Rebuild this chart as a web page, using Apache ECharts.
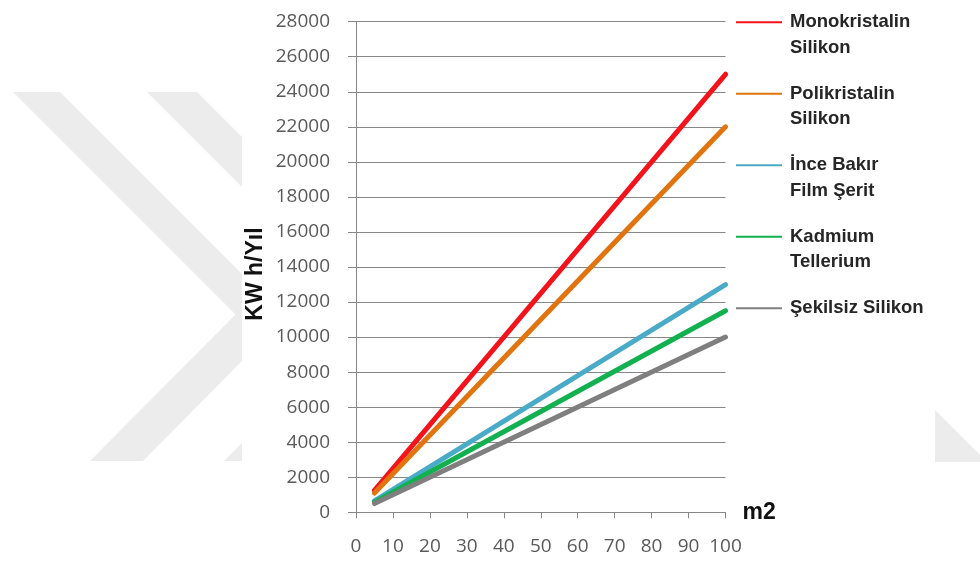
<!DOCTYPE html>
<html>
<head>
<meta charset="utf-8">
<script src="https://cdn.jsdelivr.net/npm/echarts@6/dist/echarts.min.js"></script>
<style>
  html, body { margin: 0; padding: 0; background: #ffffff; }
  #chart { width: 980px; height: 563px; }
</style>
</head>
<body>
<div id="chart"></div>
<script>
// Panel area (m2) where each measurement was taken
const areaValues = [5, 100];

// Yearly energy output (KWh/Yıl) per panel technology
const monoValues = [1250, 25000];
const poliValues = [1100, 22000];
const inceValues = [650, 13000];
const kadmiumValues = [575, 11500];
const sekilsizValues = [500, 10000];

const seriesNames = [
  'Monokristalin\nSilikon',
  'Polikristalin\nSilikon',
  'İnce Bakır\nFilm Şerit',
  'Kadmium\nTellerium',
  'Şekilsiz Silikon'
];
const seriesValues = [monoValues, poliValues, inceValues, kadmiumValues, sekilsizValues];
const seriesColors = ['#f5131b', '#e2740f', '#4aabc8', '#12b04e', '#7f7f7f'];

// Axis ranges and tick steps
const xMin = 0, xMax = 100, xStep = 10;
const yMin = 0, yMax = 28000, yStep = 2000;

const gridColor = '#878787';
const tickFont = { fontFamily: 'Open Sans', fontSize: 19, color: '#5a5a5a' };
const stripe = '#ececec';

const chart = echarts.init(document.getElementById('chart'), null, { renderer: 'canvas' });

chart.setOption({
  backgroundColor: '#ffffff',
  animation: false,
  // faint chevron stripes printed behind the figure
  graphic: [
    { type: 'polygon', silent: true, z: -1,
      shape: { points: [[13, 92], [60, 92], [242, 274], [242, 361], [143, 461], [90, 461], [235.5, 314.5]] },
      style: { fill: stripe } },
    { type: 'polygon', silent: true, z: -1,
      shape: { points: [[147, 92], [197, 92], [242, 137], [242, 187]] },
      style: { fill: stripe } },
    { type: 'polygon', silent: true, z: -1,
      shape: { points: [[224, 461], [242, 461], [242, 443]] },
      style: { fill: stripe } },
    { type: 'polygon', silent: true, z: -1,
      shape: { points: [[935, 410], [980, 455], [980, 462], [935, 462]] },
      style: { fill: stripe } }
  ],
  grid: { left: 356, right: 254.5, top: 21.7, bottom: 50.7, containLabel: false },
  legend: {
    orient: 'vertical',
    left: 736,
    top: -16,
    padding: 0,
    itemGap: -5,
    itemWidth: 46,
    itemHeight: 14,
    selectedMode: false,
    data: seriesNames.map((n, i) => ({
      name: n,
      icon: 'path://M0,6.5L46,6.5L46,8.5L0,8.5Z',
      itemStyle: { color: seriesColors[i] }
    })),
    // every entry is padded to three lines so the marker sits level with the first text line
    formatter: (name) => (name.indexOf('\n') >= 0 ? '\n' + name : '\n' + name + '\n'),
    textStyle: {
      fontFamily: 'Liberation Sans',
      fontWeight: 'bold',
      fontSize: 18.5,
      color: '#262626',
      lineHeight: 25.5,
      padding: [0, 0, 0, 3]
    }
  },
  xAxis: {
    type: 'value',
    min: xMin,
    max: xMax,
    interval: xStep,
    name: 'm2',
    nameLocation: 'end',
    nameGap: 17,
    nameTextStyle: { fontFamily: 'Liberation Sans', fontWeight: 'bold', fontSize: 23, color: '#111111', verticalAlign: 'middle', padding: [7, 0, 0, 0] },
    axisLine: { show: true, onZero: false, lineStyle: { color: gridColor, width: 1 } },
    axisTick: { show: true, inside: false, length: 6, lineStyle: { color: gridColor, width: 1 } },
    axisLabel: Object.assign({ margin: 25 }, tickFont),
    splitLine: { show: false }
  },
  yAxis: {
    type: 'value',
    min: yMin,
    max: yMax,
    interval: yStep,
    name: 'KW h/Yıl',
    nameLocation: 'middle',
    nameRotate: 90,
    nameGap: 89,
    nameTextStyle: { fontFamily: 'Liberation Sans', fontWeight: 'bold', fontSize: 23, color: '#111111', padding: [0, 14, 0, 0] },
    axisLine: { show: true, lineStyle: { color: gridColor, width: 1 } },
    axisTick: { show: true, inside: false, length: 8, lineStyle: { color: gridColor, width: 1 } },
    axisLabel: Object.assign({ margin: 26, formatter: (v) => String(v) }, tickFont),
    splitLine: { show: true, lineStyle: { color: gridColor, width: 1 } }
  },
  series: seriesNames.map((name, i) => ({
    name: name,
    type: 'line',
    data: areaValues.map((x, j) => [x, seriesValues[i][j]]),
    symbol: 'none',
    showSymbol: false,
    silent: true,
    color: seriesColors[i],
    lineStyle: { color: seriesColors[i], width: 5, cap: 'round' },
    z: 2 + i
  }))
});
</script>
</body>
</html>
